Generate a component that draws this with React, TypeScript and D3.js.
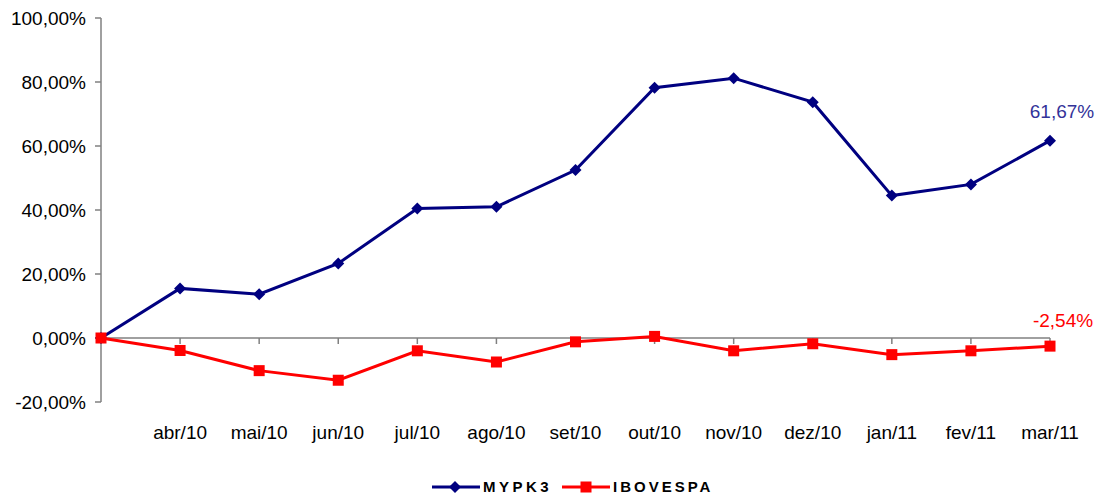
import React from "react";
import * as d3 from "d3";

const months = ["", "abr/10", "mai/10", "jun/10", "jul/10", "ago/10", "set/10", "out/10", "nov/10", "dez/10", "jan/11", "fev/11", "mar/11"];
const mypk3 = [0, 15.5, 13.7, 23.3, 40.5, 41.0, 52.5, 78.2, 81.2, 73.7, 44.5, 48.0, 61.67];
const ibovespa = [0, -3.9, -10.2, -13.2, -4.0, -7.5, -1.2, 0.5, -4.0, -1.8, -5.2, -4.0, -2.54];
const yTicks = [-20, 0, 20, 40, 60, 80, 100];

const fmt = (v: number) => v.toFixed(2).replace(".", ",") + "%";

const App = () => {
  const width = 1102;
  const height = 498;
  const font = "'Liberation Sans', Arial, sans-serif";

  const x = d3.scalePoint().domain(months.map((m, i) => String(i))).range([101, 1050]);
  const y = d3.scaleLinear().domain([-20, 100]).range([402, 18]);

  const line = d3
    .line<number>()
    .x((d, i) => x(String(i)) as number)
    .y((d) => y(d));

  const navy = "#000080";
  const red = "#FF0000";
  const last = months.length - 1;

  return (
    <svg width={width} height={height} style={{ position: "absolute", left: 0, top: 0, fontFamily: font }}>
      <rect width={width} height={height} fill="white" />
      {/* y axis */}
      <line x1={101} x2={101} y1={y(100)} y2={y(-20)} stroke="#808080" strokeWidth={1.5} />
      {yTicks.map((t) => (
        <g key={t}>
          <line x1={95} x2={101} y1={y(t)} y2={y(t)} stroke="#808080" strokeWidth={1.5} />
          <text x={86} y={y(t)} dy="0.35em" textAnchor="end" fontSize={19} fill="#000">
            {fmt(t)}
          </text>
        </g>
      ))}
      {/* x axis at zero */}
      <line x1={101} x2={1050} y1={y(0)} y2={y(0)} stroke="#808080" strokeWidth={1.5} />
      {months.map((m, i) =>
        i === 0 ? null : (
          <g key={m}>
            <line x1={x(String(i))} x2={x(String(i))} y1={y(0)} y2={y(0) + 6} stroke="#808080" strokeWidth={1.5} />
            <text x={x(String(i))} y={432} dy="0.35em" textAnchor="middle" fontSize={19} fill="#000">
              {m}
            </text>
          </g>
        )
      )}
      {/* series */}
      <path d={line(mypk3) || ""} fill="none" stroke={navy} strokeWidth={3} />
      {mypk3.map((v, i) => {
        const cx = x(String(i)) as number;
        const cy = y(v);
        return (
          <path key={i} d={`M${cx},${cy - 6}L${cx + 6},${cy}L${cx},${cy + 6}L${cx - 6},${cy}Z`} fill={navy} />
        );
      })}
      <path d={line(ibovespa) || ""} fill="none" stroke={red} strokeWidth={3} />
      {ibovespa.map((v, i) => {
        const cx = x(String(i)) as number;
        const cy = y(v);
        return <rect key={i} x={cx - 5.5} y={cy - 5.5} width={11} height={11} fill={red} />;
      })}
      {/* end labels */}
      <text x={(x(String(last)) as number) + 12} y={y(mypk3[last]) - 29} dy="0.35em" textAnchor="middle" fontSize={19} fill="#333399">
        {fmt(mypk3[last])}
      </text>
      <text x={(x(String(last)) as number) + 13} y={y(ibovespa[last]) - 26} dy="0.35em" textAnchor="middle" fontSize={19} fill={red}>
        {fmt(ibovespa[last])}
      </text>
      {/* legend */}
      <g>
        <line x1={432} x2={480} y1={487} y2={487} stroke={navy} strokeWidth={3} />
        <path d="M455,481L461,487L455,493L449,487Z" fill={navy} />
        <text x={483} y={487} dy="0.35em" fontSize={15} fontWeight="bold" letterSpacing={3.5} fill="#000">
          MYPK3
        </text>
        <line x1={562} x2={610} y1={487} y2={487} stroke={red} strokeWidth={3} />
        <rect x={580.5} y={481.5} width={11} height={11} fill={red} />
        <text x={613} y={487} dy="0.35em" fontSize={15} fontWeight="bold" letterSpacing={3} fill="#000">
          IBOVESPA
        </text>
      </g>
    </svg>
  );
};

export default App;
